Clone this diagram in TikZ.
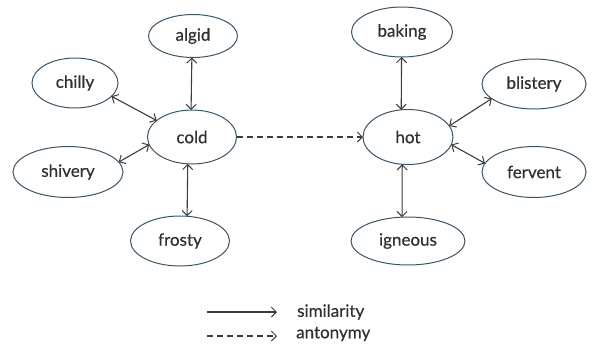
\documentclass[tikz,border=0pt]{standalone}
\usepackage{fontspec}
\newfontfamily\wordfont{Lato}[FakeBold=0.45]
\usetikzlibrary{arrows.meta,shapes.geometric}
\definecolor{rim}{HTML}{3A5566}
\definecolor{ink}{HTML}{303030}
\definecolor{wire}{HTML}{3C3C3C}
\tikzset{
  tip/.tip={Straight Barb[length=5pt,width=10pt,line width=1pt]},
  word/.style={ellipse,draw=rim,line width=1pt,inner sep=0pt,outer sep=0pt,
    text=ink,font=\wordfont\fontsize{17}{19}\selectfont},
  syn/.style={draw=wire,line width=1.1pt,{tip}-{tip}},
  ant/.style={draw=wire,line width=1.1pt,dash pattern=on 6pt off 4pt,-{tip}},
  key/.style={text=ink,font=\wordfont\fontsize{17}{19}\selectfont,anchor=west,inner sep=0pt}
}
\begin{document}
\begin{tikzpicture}[x=1pt,y=-1pt]
\useasboundingbox (0,0) rectangle (592,346);
% cold cluster
\node[word,minimum width=89pt,minimum height=43pt] (algid)   at (193,36)  {algid};
\node[word,minimum width=86pt,minimum height=50pt] (chilly)  at (75,83)   {chilly};
\node[word,minimum width=89pt,minimum height=54pt] (cold)    at (192,137) {cold};
\node[word,minimum width=110pt,minimum height=51pt] (shivery) at (68,172)  {shivery};
\node[word,minimum width=99pt,minimum height=50pt] (frosty)  at (180,241) {frosty};
% hot cluster
\node[word,minimum width=101pt,minimum height=50pt] (baking)   at (402,32)  {baking};
\node[word,minimum width=104pt,minimum height=50pt] (blistery) at (534,84)  {blistery};
\node[word,minimum width=90pt,minimum height=55pt]  (hot)      at (408,137) {hot};
\node[word,minimum width=104pt,minimum height=51pt] (fervent)  at (534,172) {fervent};
\node[word,minimum width=114pt,minimum height=48pt] (igneous)  at (408,241) {igneous};
% similarity links
\draw[syn] (algid.267) -- (cold.92);
\draw[syn] (chilly.340) -- (cold.155);
\draw[syn] (shivery.11) -- (cold.190);
\draw[syn] (frosty.74) -- (cold.261);
\draw[syn] (baking.269) -- (hot.104);
\draw[syn] (blistery.199) -- (hot.15);
\draw[syn] (fervent.170) -- (hot.350);
\draw[syn] (igneous.104) -- (hot.258);
% antonymy link
\draw[ant] (cold) -- (hot);
% legend
\coordinate (s1) at (207,312);
\coordinate (s2) at (277,312);
\coordinate (a1) at (207,336);
\coordinate (a2) at (277,336);
\draw[draw=wire,line width=1.1pt,-{tip}] (s1) -- (s2);
\draw[ant] (a1) -- (a2);
\node[key] (simlabel) at (297,312) {similarity};
\node[key] (antlabel) at (296,334) {antonymy};
\end{tikzpicture}
\end{document}
